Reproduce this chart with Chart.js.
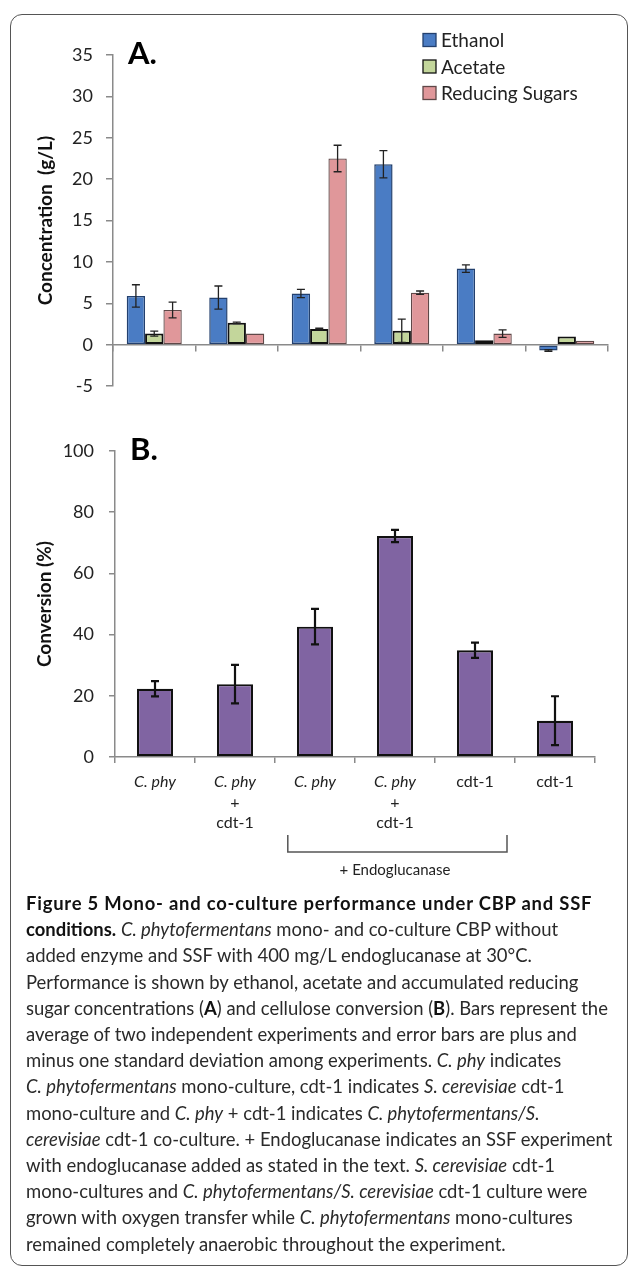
<!DOCTYPE html>
<html>
<head>
<meta charset="utf-8">
<script src="https://cdn.jsdelivr.net/npm/chart.js@4.4.1/dist/chart.umd.min.js"></script>
<style>
  html, body { margin: 0; padding: 0; background: #fff; width: 630px; height: 1268px; overflow: hidden; }
  #frame { position: absolute; left: 10px; top: 14px; width: 616px; height: 1250px;
           border: 1.5px solid #555; border-radius: 12px; }
  #chartA { position: absolute; left: 0; top: 0; }
  #chartB { position: absolute; left: 0; top: 400px; }
  #caption { position: absolute; left: 26px; top: 890px; font-family: Lato, sans-serif;
             color: #2a2a2a; line-height: 26.2px; white-space: nowrap; font-size: 18px; }
  #caption b { color: #111; }
</style>
</head>
<body>
<div id="frame"></div>
<canvas id="chartA" width="630" height="410"></canvas>
<canvas id="chartB" width="630" height="500"></canvas>
<div id="caption"></div>

<script>
// Categories (x axis of both panels)
const categories = [
    ['C. phy'],
    ['C. phy', '+', 'cdt-1'],
    ['C. phy'],
    ['C. phy', '+', 'cdt-1'],
    ['cdt-1'],
    ['cdt-1']
];

// Panel A: concentrations (g/L) and standard deviations
const ethanol = [5.9, 5.7, 6.2, 21.8, 9.2, -0.7];
const ethanolErr = [1.35, 1.4, 0.5, 1.65, 0.45, 0.1];
const acetate = [1.35, 2.65, 1.9, 1.7, 0.55, 1.0];
const acetateErr = [0.3, 0.1, 0.1, 1.4, 0, 0];
const sugars = [4.2, 1.35, 22.5, 6.3, 1.35, 0.5];
const sugarsErr = [0.95, 0, 1.6, 0.2, 0.45, 0];

// Panel B: cellulose conversion (%)
const conversion = [22.3, 23.8, 42.6, 72.2, 34.9, 11.85];
const conversionErr = [2.5, 6.3, 5.8, 2.0, 2.5, 8.0];

// Bracket under categories 3..5 ("+ Endoglucanase")
const bracketFrom = 2;
const bracketTo = 4;
const bracketText = '+ Endoglucanase';

const captionLines = [
    '<b>Figure 5 Mono- and co-culture performance under CBP and SSF</b>',
    '<b>conditions.</b> <i>C. phytofermentans</i> mono- and co-culture CBP without',
    'added enzyme and SSF with 400 mg/L endoglucanase at 30°C.',
    'Performance is shown by ethanol, acetate and accumulated reducing',
    'sugar concentrations (<b>A</b>) and cellulose conversion (<b>B</b>). Bars represent the',
    'average of two independent experiments and error bars are plus and',
    'minus one standard deviation among experiments. <i>C. phy</i> indicates',
    '<i>C. phytofermentans</i> mono-culture, cdt-1 indicates <i>S. cerevisiae</i> cdt-1',
    'mono-culture and <i>C. phy</i> + cdt-1 indicates <i>C. phytofermentans/S.</i>',
    '<i>cerevisiae</i> cdt-1 co-culture. + Endoglucanase indicates an SSF experiment',
    'with endoglucanase added as stated in the text. <i>S. cerevisiae</i> cdt-1',
    'mono-cultures and <i>C. phytofermentans/S. cerevisiae</i> cdt-1 culture were',
    'grown with oxygen transfer while <i>C. phytofermentans</i> mono-cultures',
    'remained completely anaerobic throughout the experiment.'
];

Chart.defaults.font.family = 'Lato, sans-serif';
Chart.defaults.color = '#222';
Chart.defaults.animation = false;

// Error bars drawn from each dataset's "errors" array
const errorBarPlugin = {
    id: 'errorBars',
    afterDatasetsDraw(chart, args, opts) {
        const ctx = chart.ctx;
        const yScale = chart.scales.y;
        ctx.save();
        ctx.strokeStyle = opts.color;
        ctx.lineWidth = opts.width;
        chart.data.datasets.forEach((ds, di) => {
            if (!ds.errors) return;
            const meta = chart.getDatasetMeta(di);
            meta.data.forEach((bar, i) => {
                const e = ds.errors[i];
                if (!e) return;
                const v = ds.data[i];
                const yTop = yScale.getPixelForValue(v + e);
                const yBot = yScale.getPixelForValue(v - e);
                const c = opts.cap / 2;
                ctx.beginPath();
                ctx.moveTo(bar.x, yTop); ctx.lineTo(bar.x, yBot);
                ctx.moveTo(bar.x - c, yTop); ctx.lineTo(bar.x + c, yTop);
                ctx.moveTo(bar.x - c, yBot); ctx.lineTo(bar.x + c, yBot);
                ctx.stroke();
            });
        });
        ctx.restore();
    }
};

// Panel letter and (optional) legend inside the plot
const panelPlugin = {
    id: 'panel',
    afterDraw(chart, args, opts) {
        const {ctx, chartArea} = chart;
        ctx.save();
        ctx.fillStyle = '#000';
        ctx.textAlign = 'left';
        ctx.textBaseline = 'middle';
        ctx.font = 'bold 31px Lato, sans-serif';
        ctx.fillText(opts.label, chartArea.left + 15, chartArea.top - 1);
        if (opts.legend) {
            const lg = opts.legend;
            ctx.font = '19px Lato, sans-serif';
            chart.data.datasets.forEach((ds, i) => {
                const y = lg.y + i * lg.step;
                ctx.fillStyle = ds.backgroundColor;
                ctx.fillRect(lg.x, y - 6.5, 13, 13);
                ctx.strokeStyle = ds.borderColor;
                ctx.lineWidth = 1.3;
                ctx.strokeRect(lg.x, y - 6.5, 13, 13);
                ctx.fillStyle = '#222';
                ctx.fillText(ds.label, lg.x + 18, y + 1);
            });
        }
        ctx.restore();
    }
};

// Mixed italic/upright category labels and the bracket in panel B
const xLabelPlugin = {
    id: 'xLabels',
    afterDraw(chart) {
        const {ctx, chartArea} = chart;
        const x = chart.scales.x;
        ctx.save();
        ctx.fillStyle = '#222';
        ctx.textAlign = 'center';
        ctx.textBaseline = 'middle';
        chart.data.labels.forEach((lab, i) => {
            const px = x.getPixelForValue(i);
            lab.forEach((line, k) => {
                ctx.font = (line.startsWith('C.') ? 'italic ' : '') + '16px Lato, sans-serif';
                ctx.fillText(line, px, chartArea.bottom + 25 + k * 20.5);
            });
        });
        const w = x.getPixelForValue(1) - x.getPixelForValue(0);
        const x1 = x.getPixelForValue(bracketFrom) - 0.34 * w;
        const x2 = x.getPixelForValue(bracketTo) + 0.4 * w;
        const yT = chartArea.bottom + 78, yB = chartArea.bottom + 95;
        ctx.strokeStyle = '#555';
        ctx.lineWidth = 1.5;
        ctx.beginPath();
        ctx.moveTo(x1, yT); ctx.lineTo(x1, yB); ctx.lineTo(x2, yB); ctx.lineTo(x2, yT);
        ctx.stroke();
        ctx.font = '15px Lato, sans-serif';
        ctx.fillText(bracketText, x.getPixelForValue((bracketFrom + bracketTo) / 2), chartArea.bottom + 113);
        ctx.restore();
    }
};

const axisColor = '#8a8a8a';
const tickFont = { size: 18 };
const titleFont = { size: 19, weight: 'bold' };

// Panel A
new Chart(document.getElementById('chartA'), {
    type: 'bar',
    data: {
        labels: categories,
        datasets: [
            { label: 'Ethanol', data: ethanol, errors: ethanolErr,
              backgroundColor: '#4a7cc4', borderColor: '#23406e', borderWidth: 1.5 },
            { label: 'Acetate', data: acetate, errors: acetateErr,
              backgroundColor: '#c3d69b', borderColor: '#111', borderWidth: 2 },
            { label: 'Reducing Sugars', data: sugars, errors: sugarsErr,
              backgroundColor: '#e0979a', borderColor: '#5f4848', borderWidth: 1.3 }
        ]
    },
    options: {
        responsive: false,
        layout: { padding: { left: 20, right: 22, top: 55, bottom: 13 } },
        datasets: { bar: { barPercentage: 1, categoryPercentage: 0.667, borderSkipped: false } },
        scales: {
            x: {
                position: { y: 0 },
                ticks: { display: false },
                grid: { drawOnChartArea: false, tickLength: 6, color: axisColor, lineWidth: 1.5 },
                border: { color: axisColor, width: 1.5 }
            },
            y: {
                min: -5, max: 35,
                ticks: { stepSize: 5, font: tickFont, color: '#222', padding: 13 },
                grid: { drawOnChartArea: false, tickLength: 7, color: axisColor, lineWidth: 1.5 },
                border: { color: axisColor, width: 1.5 },
                title: { display: true, text: 'Concentration  (g/L)', font: titleFont, color: '#111',
                         padding: { top: 14.6, bottom: 0 } },
                afterFit: scale => { scale.width = 93; }
            }
        },
        plugins: {
            legend: { display: false },
            tooltip: { enabled: false },
            errorBars: { color: '#222', width: 1.3, cap: 8 },
            panel: { label: 'A.', legend: { x: 423, y: 40, step: 26.5 } }
        }
    },
    plugins: [errorBarPlugin, panelPlugin]
});

// Panel B
new Chart(document.getElementById('chartB'), {
    type: 'bar',
    data: {
        labels: categories,
        datasets: [
            { label: 'Conversion', data: conversion, errors: conversionErr,
              backgroundColor: '#8064a2', borderColor: '#111', borderWidth: 2.2 }
        ]
    },
    options: {
        responsive: false,
        layout: { padding: { left: 20, right: 35, top: 51, bottom: 137 } },
        datasets: { bar: { barPercentage: 1, categoryPercentage: 0.45, borderSkipped: false } },
        scales: {
            x: {
                ticks: { display: false },
                grid: { drawOnChartArea: false, tickLength: 6, color: axisColor, lineWidth: 1.5 },
                border: { color: axisColor, width: 1.5 }
            },
            y: {
                min: 0, max: 100,
                ticks: { stepSize: 20, font: tickFont, color: '#222', padding: 15 },
                grid: { drawOnChartArea: false, tickLength: 6, color: axisColor, lineWidth: 1.5 },
                border: { color: axisColor, width: 1.5 },
                title: { display: true, text: 'Conversion (%)', font: titleFont, color: '#111',
                         padding: { top: 13.6, bottom: 0 } },
                afterFit: scale => { scale.width = 95; }
            }
        },
        plugins: {
            legend: { display: false },
            tooltip: { enabled: false },
            errorBars: { color: '#111', width: 2.2, cap: 8 },
            panel: { label: 'B.' }
        }
    },
    plugins: [errorBarPlugin, panelPlugin, xLabelPlugin]
});

// Caption, one div per line as in the figure
const caption = document.getElementById('caption');
caption.innerHTML = captionLines.map(l => '<div><span>' + l + '</span></div>').join('');

function fitCaption() {
    const spans = caption.querySelectorAll('span');
    const w = spans[4].getBoundingClientRect().width;
    const size = parseFloat(getComputedStyle(caption).fontSize);
    caption.style.fontSize = (size * 582 / w).toFixed(2) + 'px';
    // bold heading line is a little wider in the figure
    const head = spans[0];
    const w0 = head.getBoundingClientRect().width;
    const n = head.textContent.length;
    head.style.letterSpacing = ((566 - w0) / n).toFixed(2) + 'px';
}
fitCaption();
</script>
</body>
</html>
